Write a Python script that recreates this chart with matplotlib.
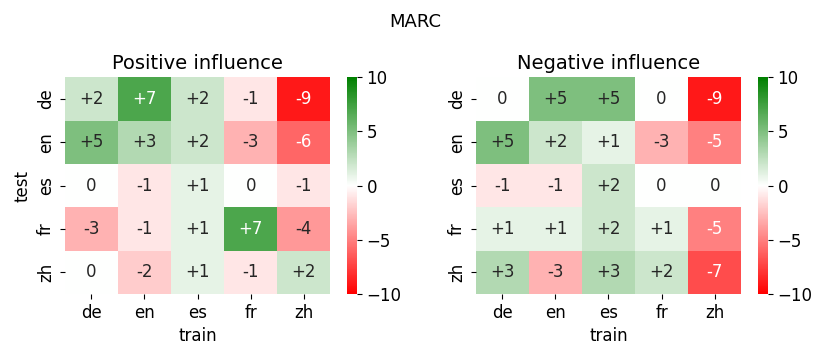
import matplotlib
matplotlib.use("Agg")
import matplotlib.pyplot as plt
import numpy as np
import seaborn as sns
from matplotlib.colors import LinearSegmentedColormap

langs = ["de", "en", "es", "fr", "zh"]

positive = [[2, 7, 2, -1, -9],
            [5, 3, 2, -3, -6],
            [0, -1, 1, 0, -1],
            [-3, -1, 1, 7, -4],
            [0, -2, 1, -1, 2]]

negative = [[0, 5, 5, 0, -9],
            [5, 2, 1, -3, -5],
            [-1, -1, 2, 0, 0],
            [1, 1, 2, 1, -5],
            [3, -3, 3, 2, -7]]


def fmt(v):
    return "0" if v == 0 else "%+d" % v


cmap = LinearSegmentedColormap.from_list("rwg", ["red", "white", "green"])

fig = plt.figure(figsize=(8.3, 3.59), dpi=100)
fig.suptitle("MARC", fontsize=13, y=0.965)

panels = [("Positive influence", positive, 0.078, 0.418, True),
          ("Negative influence", negative, 0.573, 0.913, False)]

for title, data, x0, cx, show_ylabel in panels:
    ax = fig.add_axes([x0, 0.181, 0.32, 0.604])
    cax = fig.add_axes([cx, 0.181, 0.012, 0.604])
    arr = np.array(data)
    labels = np.vectorize(fmt)(arr)
    sns.heatmap(arr, ax=ax, cbar_ax=cax, cmap=cmap, vmin=-10, vmax=10,
                annot=labels, fmt="", annot_kws={"fontsize": 12},
                xticklabels=langs, yticklabels=langs)
    ax.set_title(title, fontsize=14)
    ax.set_xlabel("train", fontsize=12)
    if show_ylabel:
        ax.set_ylabel("test", fontsize=12)
    ax.tick_params(labelsize=12)
    cax.tick_params(labelsize=12)
    cax.set_yticks([-10, -5, 0, 5, 10])

fig.savefig("out.png", dpi=100)
